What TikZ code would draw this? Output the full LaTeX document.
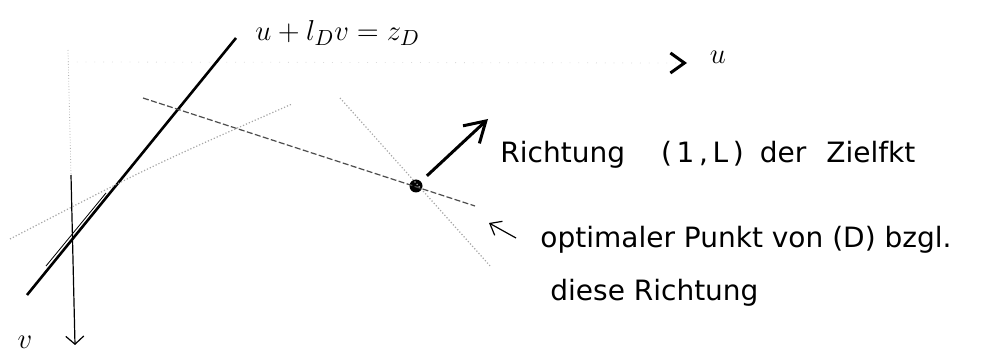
\documentclass[tikz,border=0pt]{standalone}
\usepackage{fontspec}
\setmainfont{DejaVu Sans}
\usetikzlibrary{arrows.meta}

\begin{document}
\begin{tikzpicture}[x=0.5pt,y=-0.5pt,
  lbl/.style={anchor=west,font=\fontsize{14}{16}\selectfont,inner sep=0pt},
  mlbl/.style={font=\fontsize{15}{17}\selectfont,inner sep=0pt},
  ax/.style={black!14,loosely dotted},
  thk/.style={line width=1.3pt},
  dsh/.style={black!70,dash pattern=on 3pt off 1.2pt,semithick},
  dtt/.style={black!35,densely dotted,semithick},
  fl/.style={-{Straight Barb[length=10pt,width=12pt]},line width=1.5pt},
]
\useasboundingbox (0,0) rectangle (987,353);
% axes
\coordinate (o) at (68,62);
\coordinate (vtop) at (68,50);
\coordinate (vmid) at (71,175);
\coordinate (vend) at (75,345);
\coordinate (uend) at (687,63);
\draw[ax,-{Straight Barb[black,line width=1.5pt,length=7pt,width=10pt]}] (o) -- (uend);
\draw[black!30,densely dotted] (vtop) -- (vmid);
\draw[semithick,-{Straight Barb[length=4pt,width=9pt]}] (vmid) -- (vend);
\node[mlbl] (u) at (718,57) {$u$};
\node[mlbl] (v) at (25,342) {$v$};
% constraint line
\coordinate (ga) at (236,38);
\coordinate (gb) at (27,295);
\draw[thk] (ga) -- (gb);
\coordinate (ha) at (106,193);
\coordinate (hb) at (46,266);
\draw[thin] (ha) -- (hb);
\node[mlbl,anchor=west] (geq) at (255,33) {$u + l_D v = z_D$};
% level lines
\node[circle,fill,inner sep=0pt,minimum size=6.5pt] (opt) at (416,186) {};
\coordinate (d1a) at (143,98);
\coordinate (d1b) at (475,206);
\draw[dsh] (d1a) -- (d1b);
\coordinate (d2a) at (10,239);
\coordinate (d2b) at (292,104);
\draw[dtt] (d2a) .. controls (151,166) .. (d2b);
\coordinate (d3a) at (340,98);
\coordinate (d3b) at (491,267);
\draw[dtt] (d3a) -- (d3b);
% direction
\coordinate (dir) at (488,119);
\draw[fl,shorten <=4pt] (opt) -- (dir);
\node[lbl] (rt) at (500,155)
  {Richtung\hspace{18pt}(\,1\,,\,L\,)\hspace{8pt}der\hspace{10pt}Zielfkt};
\coordinate (pa) at (516,238);
\coordinate (pb) at (489,223);
\draw[semithick,-{Straight Barb[length=5pt,width=8pt]}] (pa) -- (pb);
\node[lbl] (op) at (540,240) {optimaler Punkt von (D) bzgl.};
\node[lbl] (dr) at (550,293) {diese Richtung};
\end{tikzpicture}
\end{document}
